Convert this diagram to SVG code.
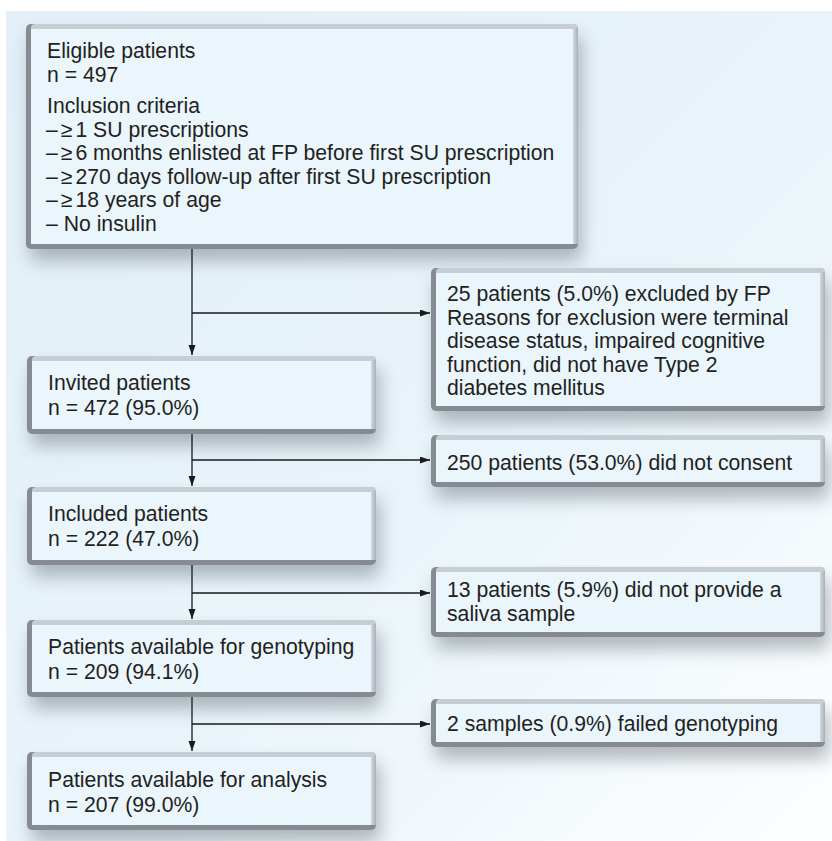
<svg xmlns="http://www.w3.org/2000/svg" width="832" height="841" viewBox="0 0 832 841">
<defs>
<linearGradient id="bg" x1="0" y1="0" x2="1" y2="1">
<stop offset="0" stop-color="#e2eff8"/>
<stop offset="0.55" stop-color="#e9f4fa"/>
<stop offset="1" stop-color="#fdfeff"/>
</linearGradient>
<linearGradient id="rt" x1="0" y1="0" x2="1" y2="0">
<stop offset="0" stop-color="#d3d9de"/>
<stop offset="1" stop-color="#a9b0b6"/>
</linearGradient>
<filter id="shadow" x="-20%" y="-20%" width="140%" height="160%">
<feGaussianBlur stdDeviation="9"/>
</filter>
<marker id="arr" markerUnits="userSpaceOnUse" markerWidth="10" markerHeight="8" refX="10" refY="3.5" orient="auto">
<path d="M0,0 L10,3.5 L0,7 z" fill="#1a1a1a"/>
</marker>
<style>
.sh{fill:#5f6770;opacity:0.45;filter:url(#shadow)}
.dk{fill:#858b91}
.lt{fill:#c6cdd3}
.rg{fill:url(#rt)}
.in{fill:#eaf5fc}
text{font-family:"Liberation Sans",Arial,Helvetica,sans-serif;font-size:21.2px;fill:#231f20}
.c{fill:none;stroke:#1a1a1a;stroke-width:1.3}
.a{marker-end:url(#arr)}
</style>
</defs>
<rect x="6" y="11" width="826" height="830" fill="url(#bg)"/>

<g id="eligible">
<rect class="sh" x="30" y="36" width="552" height="225" rx="5"/>
<rect class="dk" x="26" y="24" width="552" height="225" rx="5"/>
<rect class="lt" x="31" y="24" width="547" height="220" rx="4"/>
<rect class="rg" x="573" y="28" width="5" height="216"/>
<rect class="in" x="31" y="29" width="542" height="215"/>
<text x="47" y="58">Eligible patients</text>
<text x="47" y="82">n = 497</text>
<text x="47" y="113">Inclusion criteria</text>
<text x="46" y="136.5">–<tspan dx="3">≥</tspan><tspan dx="3">1 SU prescriptions</tspan></text>
<text x="46" y="160">–<tspan dx="3">≥</tspan><tspan dx="3">6 months enlisted at FP before first SU prescription</tspan></text>
<text x="46" y="183.5">–<tspan dx="3">≥</tspan><tspan dx="3">270 days follow-up after first SU prescription</tspan></text>
<text x="46" y="207">–<tspan dx="3">≥</tspan><tspan dx="3">18 years of age</tspan></text>
<text x="46" y="230.5">– No insulin</text>
</g>

<g id="excluded-fp">
<rect class="sh" x="435" y="280" width="394" height="143" rx="5"/>
<rect class="dk" x="431" y="268" width="394" height="143" rx="5"/>
<rect class="lt" x="436" y="268" width="389" height="138" rx="4"/>
<rect class="rg" x="820" y="272" width="5" height="134"/>
<rect class="in" x="436" y="273" width="384" height="133"/>
<text x="447" y="301">25 patients (5.0%) excluded by FP</text>
<text x="447" y="324.5">Reasons for exclusion were terminal</text>
<text x="447" y="348">disease status, impaired cognitive</text>
<text x="447" y="371.5">function, did not have Type 2</text>
<text x="447" y="395">diabetes mellitus</text>
</g>

<g id="invited">
<rect class="sh" x="31" y="368" width="349" height="78" rx="5"/>
<rect class="dk" x="27" y="356" width="349" height="78" rx="5"/>
<rect class="lt" x="32" y="356" width="344" height="73" rx="4"/>
<rect class="rg" x="371" y="360" width="5" height="69"/>
<rect class="in" x="32" y="361" width="339" height="68"/>
<text x="48" y="390">Invited patients</text>
<text x="48" y="415">n = 472 (95.0%)</text>
</g>

<g id="no-consent">
<rect class="sh" x="435" y="447" width="394" height="52" rx="5"/>
<rect class="dk" x="431" y="435" width="394" height="52" rx="5"/>
<rect class="lt" x="436" y="435" width="389" height="47" rx="4"/>
<rect class="rg" x="820" y="439" width="5" height="43"/>
<rect class="in" x="436" y="440" width="384" height="42"/>
<text x="447" y="470">250 patients (53.0%) did not consent</text>
</g>

<g id="included">
<rect class="sh" x="31" y="499" width="349" height="78" rx="5"/>
<rect class="dk" x="27" y="487" width="349" height="78" rx="5"/>
<rect class="lt" x="32" y="487" width="344" height="73" rx="4"/>
<rect class="rg" x="371" y="491" width="5" height="69"/>
<rect class="in" x="32" y="492" width="339" height="68"/>
<text x="48" y="521">Included patients</text>
<text x="48" y="546">n = 222 (47.0%)</text>
</g>

<g id="no-saliva">
<rect class="sh" x="435" y="579" width="394" height="70" rx="5"/>
<rect class="dk" x="431" y="567" width="394" height="70" rx="5"/>
<rect class="lt" x="436" y="567" width="389" height="65" rx="4"/>
<rect class="rg" x="820" y="571" width="5" height="61"/>
<rect class="in" x="436" y="572" width="384" height="60"/>
<text x="447" y="597">13 patients (5.9%) did not provide a</text>
<text x="447" y="621">saliva sample</text>
</g>

<g id="genotyping">
<rect class="sh" x="31" y="632" width="349" height="77" rx="5"/>
<rect class="dk" x="27" y="620" width="349" height="77" rx="5"/>
<rect class="lt" x="32" y="620" width="344" height="72" rx="4"/>
<rect class="rg" x="371" y="624" width="5" height="68"/>
<rect class="in" x="32" y="625" width="339" height="67"/>
<text x="48" y="654">Patients available for genotyping</text>
<text x="48" y="679">n = 209 (94.1%)</text>
</g>

<g id="failed">
<rect class="sh" x="435" y="711" width="394" height="48" rx="5"/>
<rect class="dk" x="431" y="699" width="394" height="48" rx="5"/>
<rect class="lt" x="436" y="699" width="389" height="43" rx="4"/>
<rect class="rg" x="820" y="703" width="5" height="39"/>
<rect class="in" x="436" y="704" width="384" height="38"/>
<text x="447" y="731">2 samples (0.9%) failed genotyping</text>
</g>

<g id="analysis">
<rect class="sh" x="31" y="764" width="349" height="78" rx="5"/>
<rect class="dk" x="27" y="752" width="349" height="78" rx="5"/>
<rect class="lt" x="32" y="752" width="344" height="73" rx="4"/>
<rect class="rg" x="371" y="756" width="5" height="69"/>
<rect class="in" x="32" y="757" width="339" height="68"/>
<text x="48" y="787">Patients available for analysis</text>
<text x="48" y="812">n = 207 (99.0%)</text>
</g>

<g id="connectors">
<line class="c a" x1="192" y1="249" x2="192" y2="355"/>
<line class="c a" x1="192" y1="313" x2="430" y2="313"/>
<line class="c a" x1="192" y1="434" x2="192" y2="486"/>
<line class="c a" x1="192" y1="460" x2="430" y2="460"/>
<line class="c a" x1="192" y1="565" x2="192" y2="619"/>
<line class="c a" x1="192" y1="593" x2="430" y2="593"/>
<line class="c a" x1="192" y1="697" x2="192" y2="751"/>
<line class="c a" x1="192" y1="724" x2="430" y2="724"/>
</g>
</svg>
